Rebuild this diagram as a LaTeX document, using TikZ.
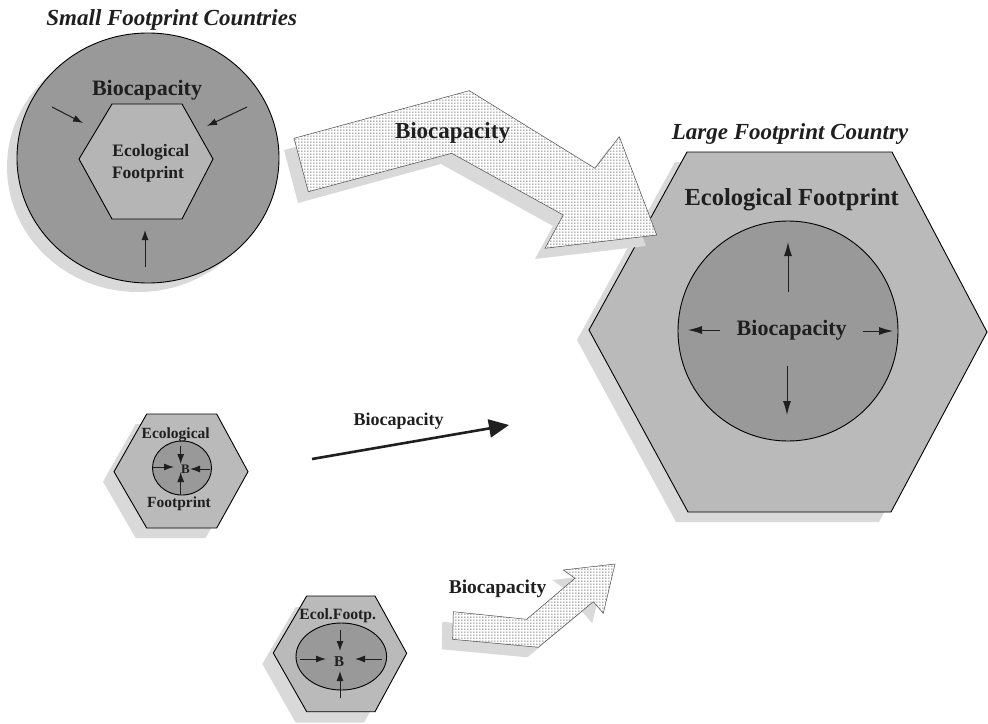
\documentclass[tikz,border=0pt]{standalone}
\usepackage{fontspec}
\setmainfont{Liberation Serif}
\usetikzlibrary{arrows.meta,patterns}
\pgfdeclarepatternformonly{finedots}{\pgfqpoint{0pt}{0pt}}{\pgfqpoint{2.5pt}{2.5pt}}{\pgfqpoint{2.5pt}{2.5pt}}{%
  \pgfpathrectangle{\pgfqpoint{0.5pt}{0.5pt}}{\pgfqpoint{1.2pt}{1.2pt}}\pgfusepath{fill}}
\definecolor{shadowgray}{gray}{0.85}
\definecolor{darkfill}{gray}{0.60}
\definecolor{lightfill}{gray}{0.71}
\definecolor{hexfill}{gray}{0.73}
\definecolor{inkc}{gray}{0.12}
\newcommand{\fsz}[1]{\fontsize{#1}{#1}\selectfont}
\tikzset{
  outline/.style={draw=black, line width=0.9pt},
  shadowfill/.style={fill=shadowgray, draw=none},
  lbl/.style={inner sep=0pt, anchor=base, text=inkc},
  smallarrow/.style={-{Latex[length=10pt,width=7pt]}, line width=1pt, draw=inkc},
  bigarrowhead/.style={-{Latex[length=14pt,width=8pt]}, line width=1pt, draw=inkc},
  dotfillshape/.style={draw=black!70, line width=0.5pt, pattern=finedots, pattern color=black!65},
}
\begin{document}
\begin{tikzpicture}[x=1pt,y=-1pt]
\useasboundingbox (0,0) rectangle (988,723);

% ---------- Top-left: small footprint countries ----------
\fill[shadowfill] (138,167) ellipse [x radius=131pt, y radius=125pt];
\draw[outline, fill=darkfill] (148,158) ellipse [x radius=131pt, y radius=125pt];
\draw[outline, fill=lightfill] (112,104) -- (182,104) -- (213,159) -- (182,219) -- (112,219) -- (79,159) -- cycle;
\node[lbl, font={\fsz{23}\bfseries\itshape}] (titleS) at (171.7,25) {Small Footprint Countries};
\node[lbl, font={\fsz{22}\bfseries}] (bioS) at (147,95) {Biocapacity};
\node[lbl, font={\fsz{17.5}\bfseries}] (efS1) at (150.8,156.7) {Ecological};
\node[lbl, font={\fsz{17.5}\bfseries}] (efS2) at (148,178) {Footprint};
\coordinate (sa1s) at (52,107);  \coordinate (sa1e) at (83,123);
\coordinate (sa2s) at (247,107); \coordinate (sa2e) at (207,126);
\coordinate (sa3s) at (145,267); \coordinate (sa3e) at (145,230);
\draw[smallarrow] (sa1s) -- (sa1e);
\draw[smallarrow] (sa2s) -- (sa2e);
\draw[smallarrow] (sa3s) -- (sa3e);

% ---------- Large footprint country ----------
\fill[shadowfill] (675,162) -- (880,162) -- (975,342) -- (879,522) -- (676,522) -- (577,340) -- cycle;
\draw[outline, fill=hexfill] (687,152) -- (892,152) -- (987,332) -- (891,512) -- (688,512) -- (589,330) -- cycle;
\draw[outline, fill=darkfill] (788,331) circle [radius=110pt];
\node[lbl, font={\fsz{23}\bfseries\itshape}] (titleL) at (790,139.3) {Large Footprint Country};
\node[lbl, font={\fsz{24.5}\bfseries}] (efL) at (791.7,205) {Ecological Footprint};
\node[lbl, font={\fsz{22}\bfseries}] (bioL) at (791.7,335) {Biocapacity};
\coordinate (la1s) at (788,292); \coordinate (la1e) at (788,242);
\coordinate (la2s) at (787,366); \coordinate (la2e) at (787,415);
\coordinate (la3s) at (720,330); \coordinate (la3e) at (688,330);
\coordinate (la4s) at (863,331); \coordinate (la4e) at (893,331);
\draw[bigarrowhead] (la1s) -- (la1e);
\draw[bigarrowhead] (la2s) -- (la2e);
\draw[bigarrowhead] (la3s) -- (la3e);
\draw[bigarrowhead] (la4s) -- (la4e);

% ---------- Top big dotted arrow ----------
\fill[shadowfill] (284,150) -- (459,102) -- (585,180) -- (609,148) -- (646,246) -- (535,259) -- (553,226) -- (441,164) -- (298,203) -- cycle;
\fill[white] (294,138.3) -- (469.3,90.7) -- (595,168.3) -- (619.3,136.7) -- (656.7,235) -- (545,248.3) -- (563.3,215) -- (451.7,153.3) -- (308.3,191.7) -- cycle;
\draw[dotfillshape] (294,138.3) -- (469.3,90.7) -- (595,168.3) -- (619.3,136.7) -- (656.7,235) -- (545,248.3) -- (563.3,215) -- (451.7,153.3) -- (308.3,191.7) -- cycle;
\node[lbl, font={\fsz{23}\bfseries}] (bioT) at (452.5,138.3) {Biocapacity};

% ---------- Middle: small hexagon with line arrow ----------
\fill[shadowfill] (135.7,424) -- (205.7,424) -- (237,481.7) -- (205.7,538) -- (135.7,538) -- (103,481.7) -- cycle;
\draw[outline, fill=hexfill] (146.7,414) -- (216.7,414) -- (248,471.7) -- (216.7,528) -- (146.7,528) -- (114,471.7) -- cycle;
\draw[outline, fill=darkfill] (182,468) ellipse [x radius=29.5pt, y radius=27pt];
\node[lbl, font={\fsz{15.5}\bfseries}] (efM1) at (175.7,438.3) {Ecological};
\node[lbl, font={\fsz{15.5}\bfseries}] (efM2) at (179,507.3) {Footprint};
\node[lbl, font={\fsz{13}\bfseries}] (bM) at (185.5,473.3) {B};
\coordinate (ma1s) at (180.7,446); \coordinate (ma1e) at (180.7,464);
\coordinate (ma2s) at (153,467);   \coordinate (ma2e) at (174,467);
\coordinate (ma3s) at (210,469);   \coordinate (ma3e) at (190,469);
\coordinate (ma4s) at (180.7,495); \coordinate (ma4e) at (180.7,472);
\draw[smallarrow] (ma1s) -- (ma1e);
\draw[smallarrow] (ma2s) -- (ma2e);
\draw[smallarrow] (ma3s) -- (ma3e);
\draw[smallarrow] (ma4s) -- (ma4e);
\coordinate (mlS) at (312,459); \coordinate (mlE) at (509,425);
\draw[-{Triangle[length=20pt,width=18pt]}, line width=2.6pt, draw=inkc] (mlS) -- (mlE);
\node[lbl, font={\fsz{18}\bfseries}] (bioM) at (398.7,425) {Biocapacity};

% ---------- Bottom: small hexagon with dotted arrow ----------
\fill[shadowfill] (295.7,607) -- (364,607) -- (395.7,664.3) -- (364,722.7) -- (295.7,722.7) -- (262.3,664) -- cycle;
\draw[outline, fill=hexfill] (306.7,596) -- (375,596) -- (406.7,653.3) -- (375,711.7) -- (306.7,711.7) -- (273.3,653) -- cycle;
\draw[outline, fill=darkfill] (341.3,656.5) ellipse [x radius=45.3pt, y radius=33.5pt];
\node[lbl, font={\fsz{15.7}\bfseries}] (efB) at (337.7,619.3) {Ecol.Footp.};
\node[lbl, font={\fsz{15}\bfseries}] (bB) at (339,666.7) {B};
\coordinate (ba1s) at (340,630); \coordinate (ba1e) at (340,651);
\coordinate (ba2s) at (300,659); \coordinate (ba2e) at (326,659);
\coordinate (ba3s) at (382,659); \coordinate (ba3e) at (355,659);
\coordinate (ba4s) at (340,698); \coordinate (ba4e) at (340,671);
\draw[smallarrow] (ba1s) -- (ba1e);
\draw[smallarrow] (ba2s) -- (ba2e);
\draw[smallarrow] (ba3s) -- (ba3e);
\draw[smallarrow] (ba4s) -- (ba4e);

\fill[shadowfill] (442.3,621.7) -- (515.7,629.3) -- (564,588.3) -- (552.3,580) -- (604,574) -- (592.3,623.3) -- (582.3,611.7) -- (527.3,657.3) -- (441.7,649.3) -- cycle;
\fill[white] (453.3,611.7) -- (526.7,619.3) -- (575,578.3) -- (563.3,570) -- (615,564) -- (603.3,613.3) -- (593.3,601.7) -- (538.3,647.3) -- (452.7,639.3) -- cycle;
\draw[dotfillshape] (453.3,611.7) -- (526.7,619.3) -- (575,578.3) -- (563.3,570) -- (615,564) -- (603.3,613.3) -- (593.3,601.7) -- (538.3,647.3) -- (452.7,639.3) -- cycle;
\node[lbl, font={\fsz{19.5}\bfseries}] (bioB) at (497.5,593.3) {Biocapacity};
\end{tikzpicture}
\end{document}
